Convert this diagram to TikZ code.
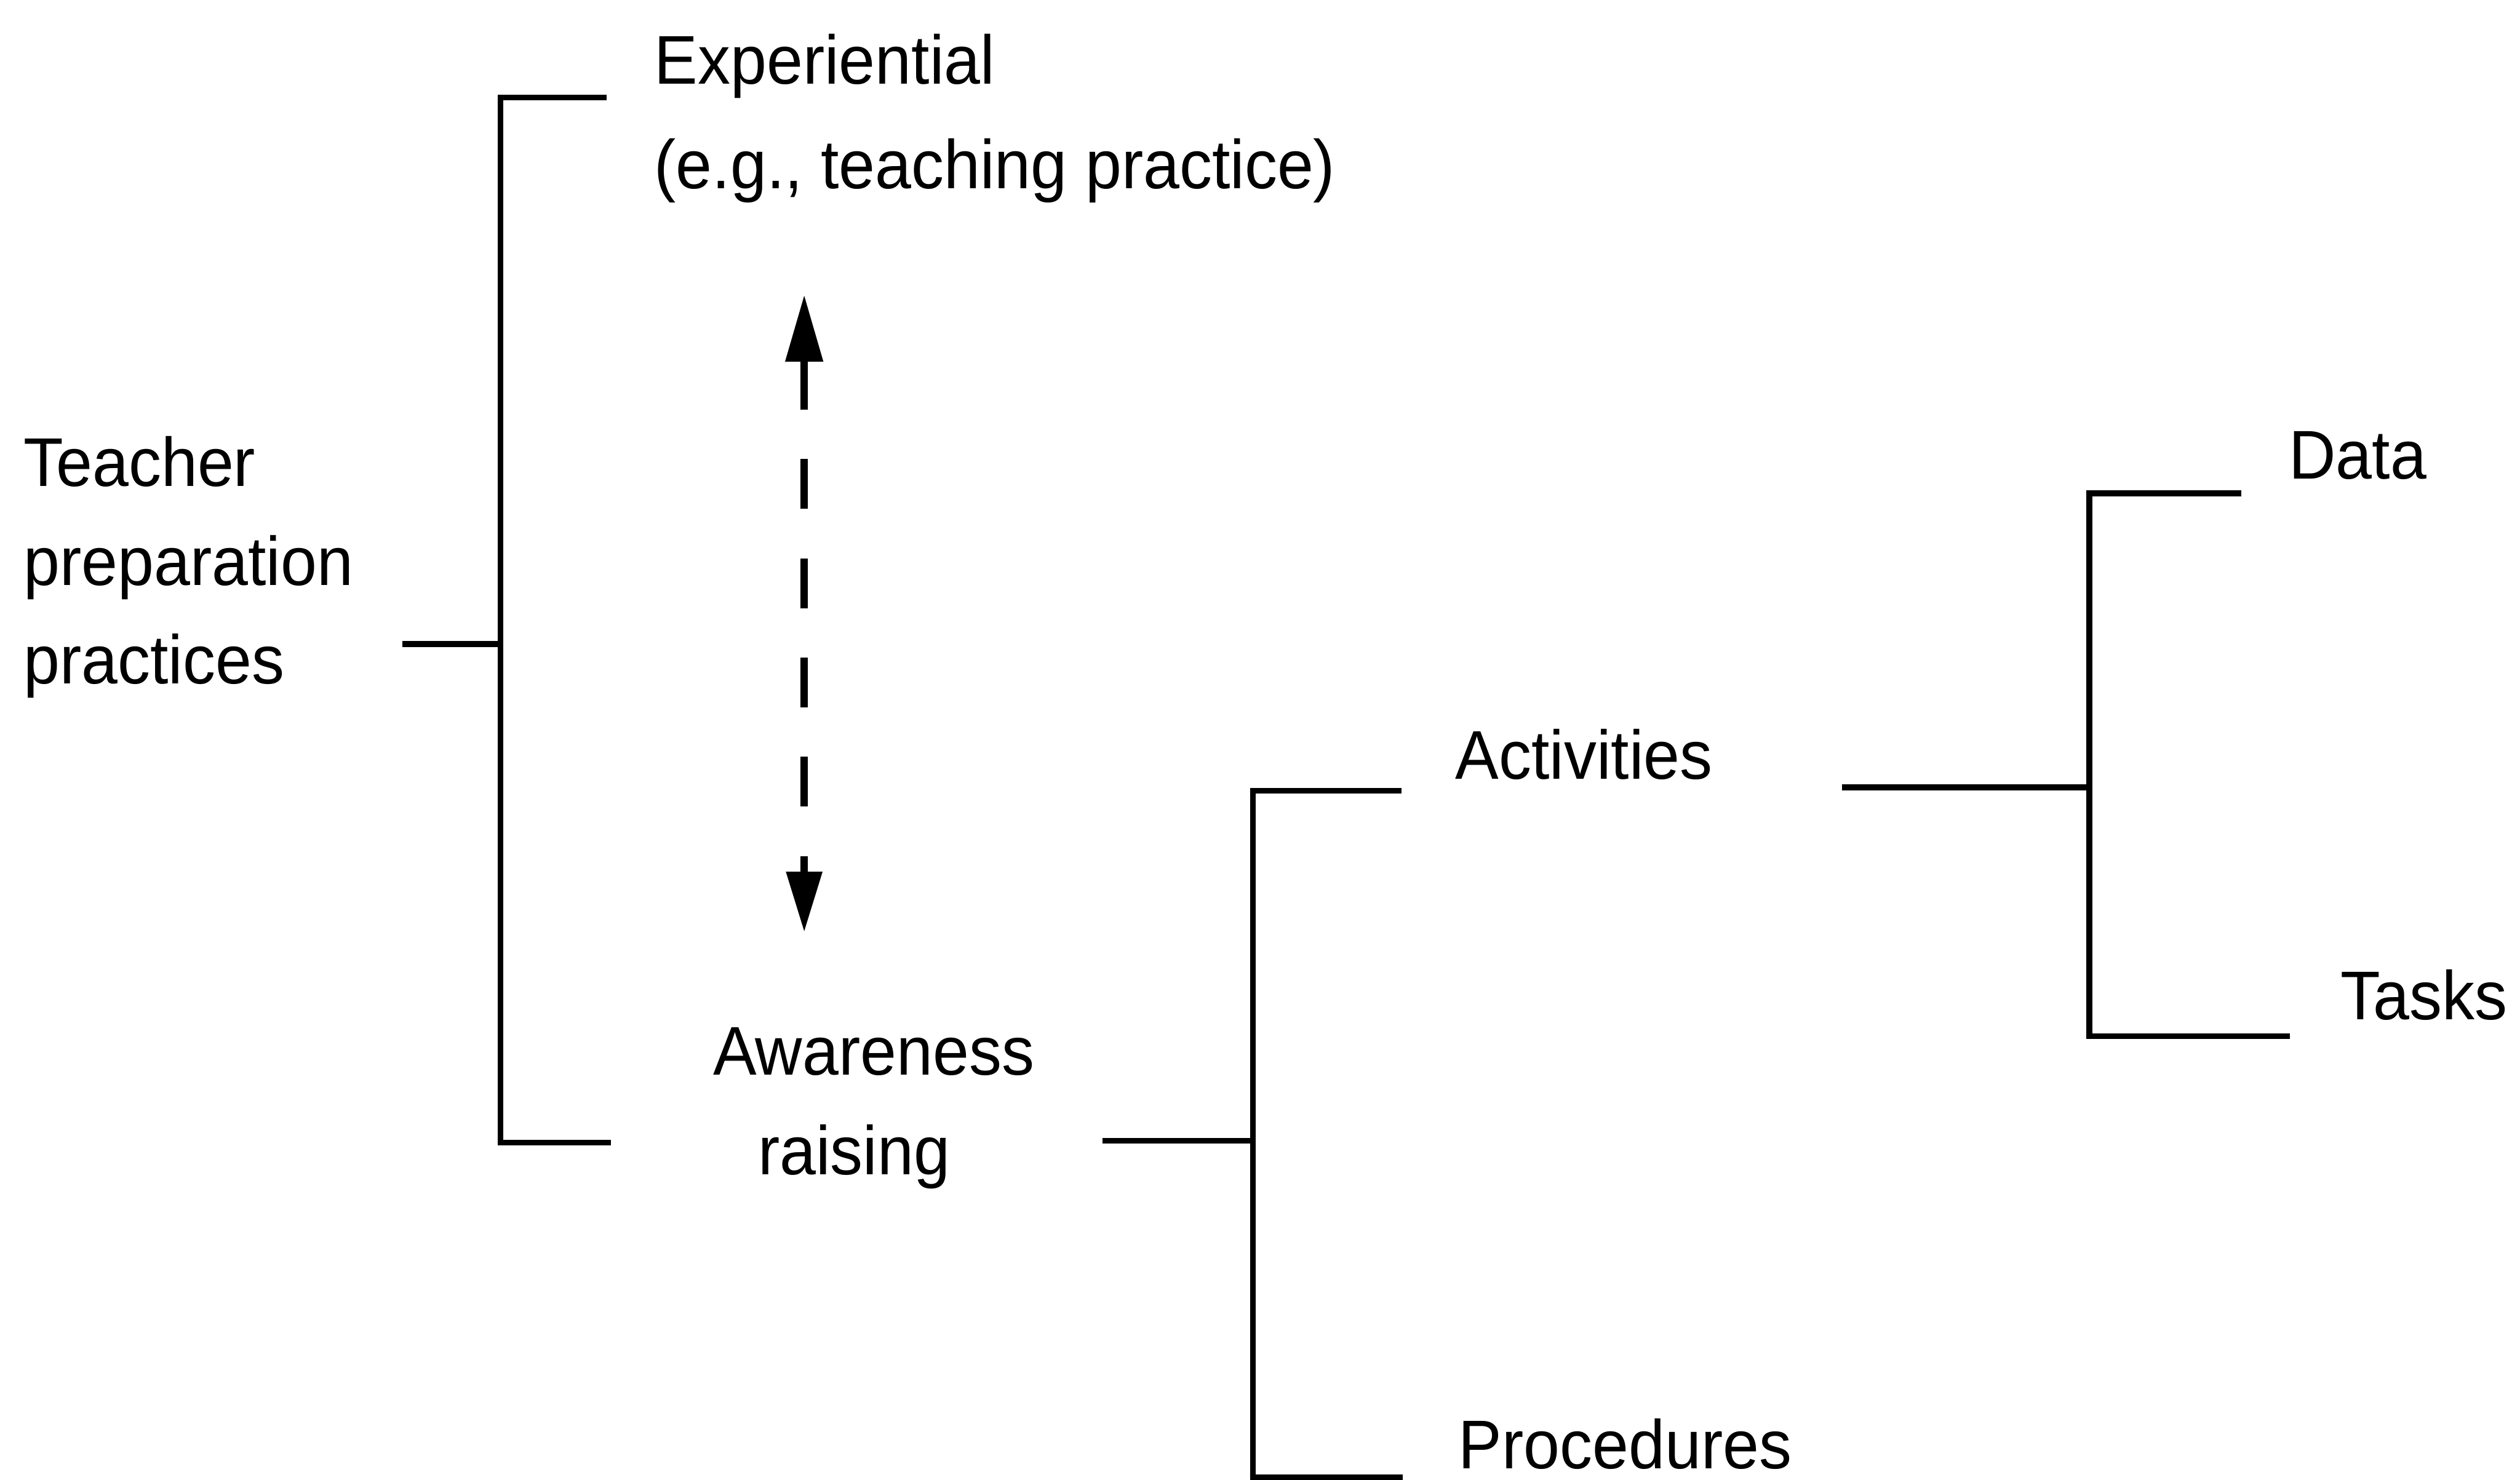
\documentclass[tikz,border=0pt]{standalone}
\usepackage{fontspec}
\setmainfont{Liberation Sans}[FakeStretch=0.945]
\usetikzlibrary{arrows.meta}
\begin{document}
\begin{tikzpicture}[x=0.01cm, y=-0.01cm,
  lbl/.style={inner sep=0pt, anchor=base west, align=left,
              font=\fontsize{12.2pt}{17.45pt}\selectfont},
  bracket/.style={line width=1pt, line cap=butt, line join=miter},
  twoway/.style={line width=0.045cm,
                 {Triangle[length=4.15mm,width=2.25mm]}-{Triangle[length=3.75mm,width=2.15mm]},
                 dash pattern=on 0.31cm off 0.3075cm}]
\useasboundingbox (0,0) rectangle (1568,921);

% labels (multi-line nodes are placed by the baseline of their last line)
\node[lbl] (tpp) at (14,425.5) {Teacher\\preparation\\practices};
\node[lbl, font=\fontsize{12.2pt}{18.5pt}\selectfont] (exp) at (406.5,117.5)
  {Experiential\\(e.g., teaching practice)};
\node[lbl, font=\fontsize{12.2pt}{17.6pt}\selectfont] (aware) at (443,731)
  {Awareness\\\hspace*{0.28cm}raising};
\node[lbl] (act)   at (905,485)     {Activities};
\node[lbl] (proc)  at (906.8,914)   {Procedures};
\node[lbl] (data)  at (1423.5,298)  {Data};
\node[lbl] (tasks) at (1455.8,634.5) {Tasks};

% first-level bracket
\coordinate (tppEnd) at (250.5,400.8);
\coordinate (b1Mid)  at (311.5,400.8);
\coordinate (b1Top)  at (311.5,60.7);
\coordinate (b1Bot)  at (311.5,711);
\coordinate (expEnd) at (377.6,60.7);
\coordinate (awEnd)  at (380,711);
\draw[bracket] (tppEnd) -- (b1Mid);
\draw[bracket] (expEnd) -- (b1Top) -- (b1Bot) -- (awEnd);

% second-level bracket
\coordinate (awOut)   at (686,710);
\coordinate (b2Mid)   at (779.5,710);
\coordinate (b2Top)   at (779.5,492);
\coordinate (b2Bot)   at (779.5,919.3);
\coordinate (actEnd)  at (872,492);
\coordinate (procEnd) at (873,919.3);
\draw[bracket] (awOut) -- (b2Mid);
\draw[bracket] (actEnd) -- (b2Top) -- (b2Bot) -- (procEnd);

% third-level bracket
\coordinate (actOut)   at (1146,490);
\coordinate (b3Mid)    at (1300,490);
\coordinate (b3Top)    at (1300,307);
\coordinate (b3Bot)    at (1300,645);
\coordinate (dataEnd)  at (1394.5,307);
\coordinate (tasksEnd) at (1425,645);
\draw[bracket] (actOut) -- (b3Mid);
\draw[bracket] (dataEnd) -- (b3Top) -- (b3Bot) -- (tasksEnd);

% two-way link between the two kinds of practice
\coordinate (linkTop) at (500.4,183.5);
\coordinate (linkBot) at (500.4,580);
\draw[twoway] (linkTop) -- (linkBot);
\end{tikzpicture}
\end{document}
